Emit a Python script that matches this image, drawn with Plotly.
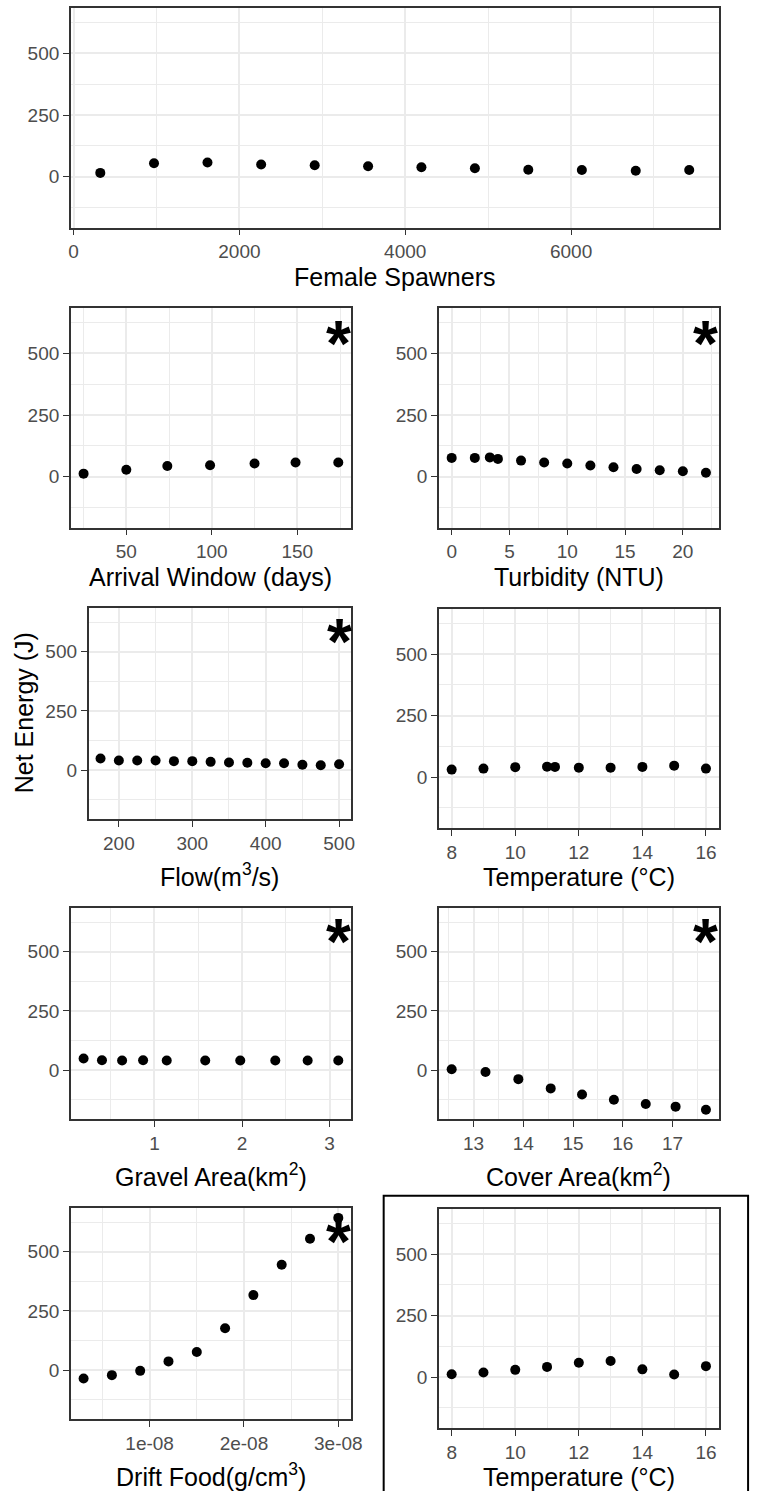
import plotly.graph_objects as go

# ---- data -------------------------------------------------------------
female_spawners = [322, 970, 1615, 2262, 2908, 3552, 4195, 4840, 5484, 6130, 6780, 7425]
female_spawners_energy = [15, 54, 57, 49, 46, 42, 38, 34, 28, 27, 24, 27]

arrival_days = [25, 50, 74, 99, 125, 149, 174]
arrival_energy = [12, 28, 43, 46, 53, 57, 57]

turbidity = [0, 2, 3.3, 4, 6, 8, 10, 12, 14, 16, 18, 20, 22]
turbidity_energy = [76, 76, 78, 72, 65, 57, 53, 45, 38, 31, 26, 22, 16]

flow = [175, 200, 225, 250, 275, 300, 325, 350, 375, 400, 425, 450, 475, 500]
flow_energy = [49, 41, 41, 41, 38, 38, 35, 32, 31, 29, 29, 23, 21, 25]

temperature = [8, 9, 10, 11, 11.25, 12, 13, 14, 15, 16]
temperature_energy = [31, 35, 41, 43, 42, 39, 39, 42, 47, 35]

gravel_area = [0.19, 0.40, 0.63, 0.87, 1.14, 1.58, 1.98, 2.38, 2.75, 3.10]
gravel_energy = [49, 42, 41, 42, 41, 41, 41, 41, 41, 41]

cover_area = [12.56, 13.24, 13.90, 14.55, 15.18, 15.82, 16.46, 17.06, 17.67]
cover_energy = [4, -8, -38, -77, -103, -125, -143, -154, -167]

drift_food = [0.3e-8, 0.6e-8, 0.9e-8, 1.2e-8, 1.5e-8, 1.8e-8, 2.1e-8, 2.4e-8, 2.7e-8, 3.0e-8]
drift_energy = [-35, -21, -3, 37, 77, 177, 317, 445, 555, 643]

temperature_b = [8, 9, 10, 11, 12, 13, 14, 15, 16]
temperature_b_energy = [12, 19, 30, 42, 59, 66, 32, 11, 45]

y_ticks = [0, 250, 500]
drift_ticks = [1e-8, 2e-8, 3e-8]
drift_tick_text = ["1e-08", "2e-08", "3e-08"]

# ---- page geometry (pixels) -------------------------------------------
W, H = 764, 1491
FONT = "Liberation Sans, Arial, sans-serif"
TICK_FONT = dict(family=FONT, size=19, color="#4D4D4D")
TITLE_FONT = dict(family=FONT, size=25, color="black")

# every panel: x values, y values, title, tick step, significance star,
# panel box (left, right, top, bottom) and title centre y
panels = [
    dict(x=female_spawners, y=female_spawners_energy, title="Female Spawners",
         dtick=2000, star=False, box=(69.2, 730, 8.3, 227.7), ty=276.7),
    dict(x=arrival_days, y=arrival_energy, title="Arrival Window (days)",
         dtick=50, star=True, box=(69.2, 355, 308.3, 527.7), ty=576.7),
    dict(x=turbidity, y=turbidity_energy, title="Turbidity (NTU)",
         dtick=5, star=True, box=(444.7, 730, 308.3, 527.7), ty=576.7),
    dict(x=flow, y=flow_energy, title="Flow(m<sup>3</sup>/s)",
         dtick=100, star=True, box=(87.3, 355, 608.3, 819.3), ty=875),
    dict(x=temperature, y=temperature_energy, title="Temperature (°C)",
         dtick=2, star=False, box=(444.7, 730, 609, 828.3), ty=876.7),
    dict(x=gravel_area, y=gravel_energy, title="Gravel Area(km<sup>2</sup>)",
         dtick=1, star=True, box=(69.2, 355, 908.3, 1119.3), ty=1175),
    dict(x=cover_area, y=cover_energy, title="Cover Area(km<sup>2</sup>)",
         dtick=1, star=True, box=(444.7, 730, 908.3, 1119.3), ty=1175),
    dict(x=drift_food, y=drift_energy, title="Drift Food(g/cm<sup>3</sup>)",
         dtick=1e-8, star=True, box=(69.2, 355, 1208.3, 1419.3), ty=1475),
    dict(x=temperature_b, y=temperature_b_energy, title="Temperature (°C)",
         dtick=2, star=False, box=(444.7, 730, 1209, 1428.3), ty=1477),
]


def expand(lo, hi, frac=0.05):
    span = hi - lo
    return [lo - frac * span, hi + frac * span]


all_y = [v for p in panels for v in p["y"]]
y_range = expand(min(all_y), max(all_y))
STAR_Y = 540

fig = go.Figure()
annotations = []

grid_common = dict(
    showgrid=True, gridcolor="#EBEBEB", gridwidth=2,
    zeroline=False, showline=True, mirror=True,
    linecolor="#333333", linewidth=1.5,
    ticks="outside", ticklen=6, tickwidth=1.3, tickcolor="#333333",
    tickfont=TICK_FONT, fixedrange=True,
)

for i, p in enumerate(panels, start=1):
    left, right, top, bottom = p["box"]
    xname = "xaxis" if i == 1 else f"xaxis{i}"
    yname = "yaxis" if i == 1 else f"yaxis{i}"
    xref = "x" if i == 1 else f"x{i}"
    yref = "y" if i == 1 else f"y{i}"

    fig.add_trace(go.Scatter(
        x=p["x"], y=p["y"], mode="markers", xaxis=xref, yaxis=yref,
        marker=dict(color="black", size=10, line=dict(width=0)),
        showlegend=False, hoverinfo="x+y",
    ))

    x_range = expand(min(p["x"]), max(p["x"]))
    xaxis = dict(
        grid_common, domain=[left / W, right / W], anchor=yref, range=x_range,
        minor=dict(tick0=0, dtick=p["dtick"] / 2, showgrid=True,
                   gridcolor="#EBEBEB", gridwidth=1, ticks=""),
    )
    if p["x"] is drift_food:
        xaxis.update(tickmode="array", tickvals=drift_ticks, ticktext=drift_tick_text)
    else:
        xaxis.update(tickmode="linear", tick0=0, dtick=p["dtick"])
    yaxis = dict(
        grid_common, domain=[1 - bottom / H, 1 - top / H], anchor=xref,
        range=y_range, tickmode="array", tickvals=y_ticks,
        minor=dict(tick0=0, dtick=125, showgrid=True,
                   gridcolor="#EBEBEB", gridwidth=1, ticks=""),
    )
    fig.update_layout({xname: xaxis, yname: yaxis})

    # axis title below each panel
    annotations.append(dict(
        text=p["title"], xref="paper", yref="paper",
        x=(left + right) / 2 / W, y=1 - p["ty"] / H,
        xanchor="center", yanchor="middle", showarrow=False, font=TITLE_FONT,
    ))

    # significance marker in the upper right corner
    if p["star"]:
        annotations.append(dict(
            text="<b>*</b>", xref=xref, yref=yref, x=max(p["x"]), y=STAR_Y,
            xanchor="center", yanchor="middle", showarrow=False,
            font=dict(family=FONT, size=64, color="black"),
        ))

# shared y-axis title
annotations.append(dict(
    text="Net Energy (J)", xref="paper", yref="paper",
    x=21.7 / W, y=1 - 713 / H, xanchor="center", yanchor="middle",
    textangle=-90, showarrow=False, font=TITLE_FONT,
))

# frame around the last temperature panel
shapes = [dict(
    type="rect", xref="paper", yref="paper",
    x0=388.3 / W, x1=760 / W, y0=-0.01, y1=1 - 1195.7 / H,
    line=dict(color="black", width=2), fillcolor="rgba(0,0,0,0)",
)]

fig.update_layout(
    width=W, height=H, margin=dict(l=0, r=0, t=0, b=0),
    paper_bgcolor="white", plot_bgcolor="white",
    annotations=annotations, shapes=shapes,
    font=dict(family=FONT),
)

fig.write_html("out.html")
